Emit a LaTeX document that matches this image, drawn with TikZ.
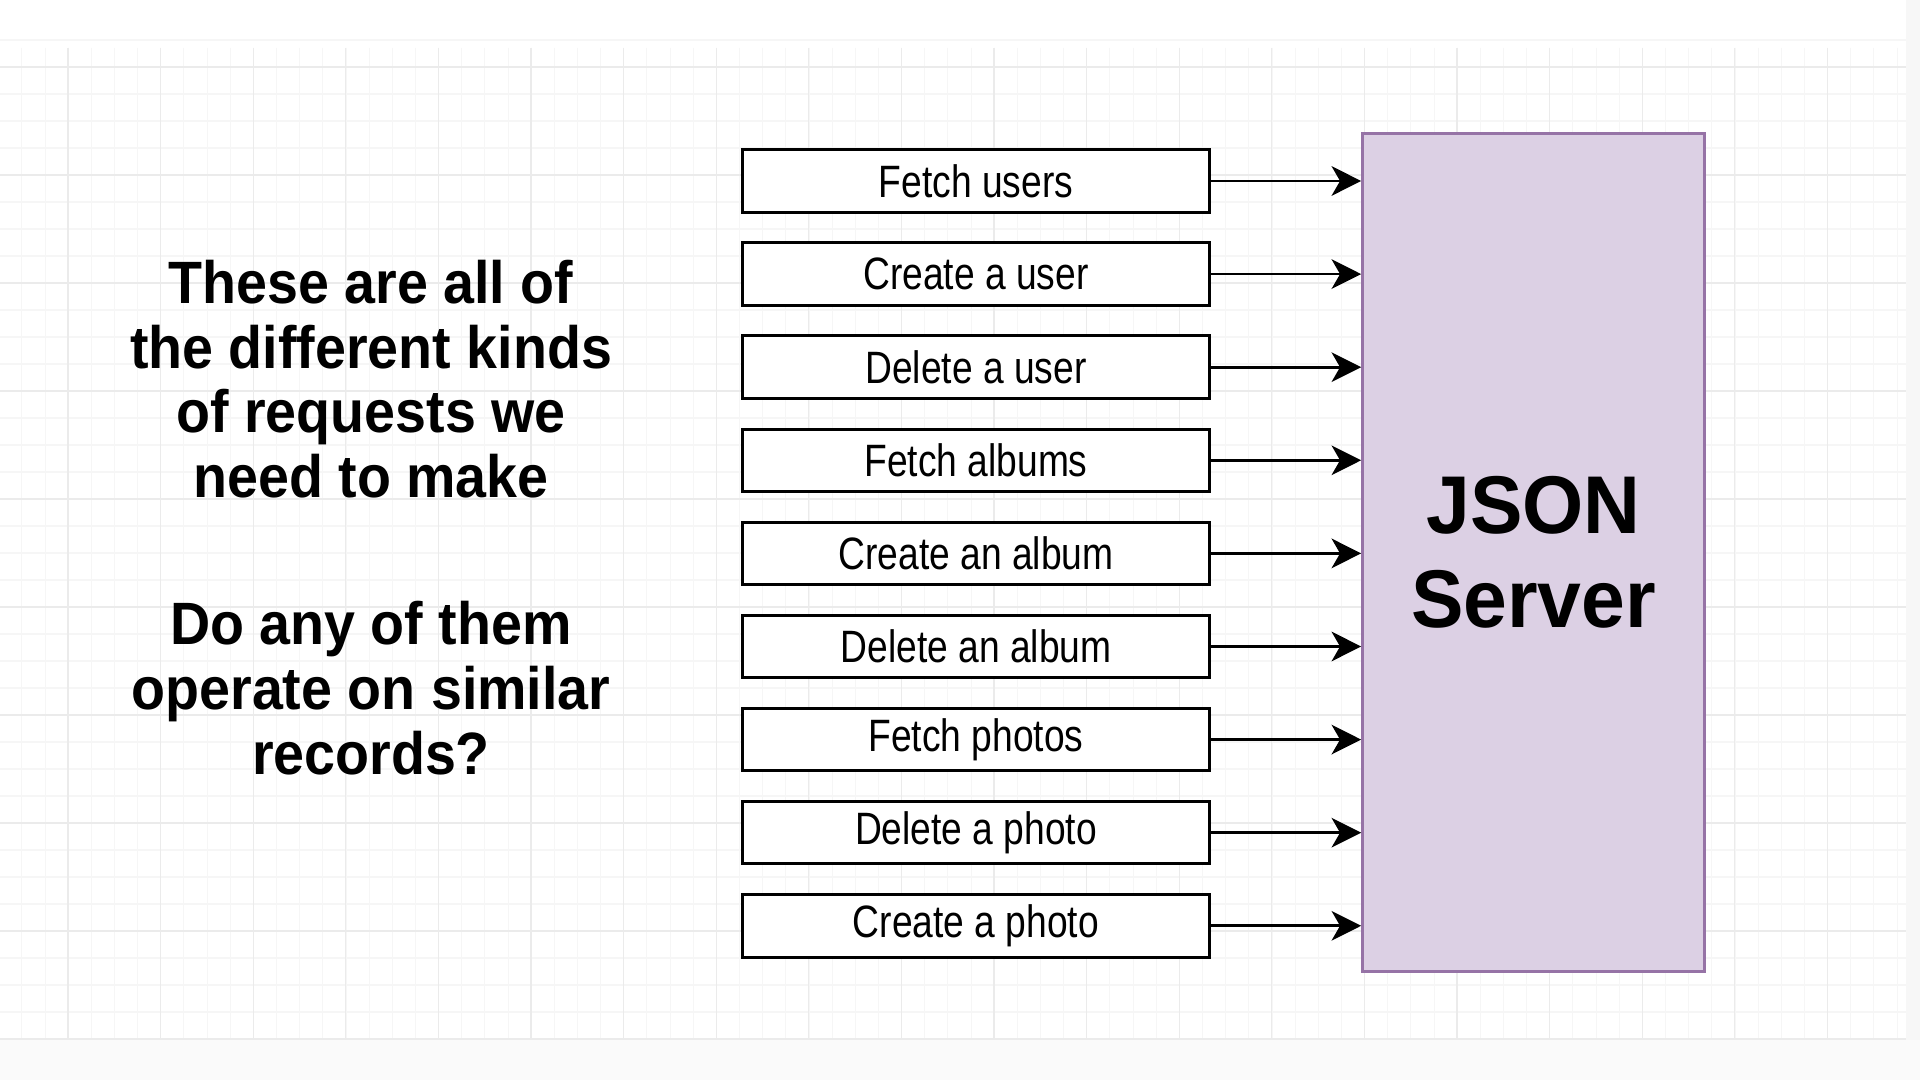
\documentclass[tikz,border=0pt]{standalone}
\usepackage{xcolor}
\usepackage{fontspec}
\setmainfont{Liberation Sans}
\newfontfamily\reqfont[FakeStretch=0.82]{Liberation Sans}
\newfontfamily\notefont[FakeStretch=0.93]{Liberation Sans}
\newfontfamily\srvfont[FakeStretch=0.96]{Liberation Sans}
\usepackage{tikz}
\usetikzlibrary{arrows.meta,positioning}

\definecolor{srvfill}{HTML}{DCD0E4}
\definecolor{srvline}{HTML}{9673A6}
\definecolor{gridmajor}{HTML}{EBEBEB}
\definecolor{gridminor}{HTML}{F6F6F6}

\tikzset{
  reqbox/.style={draw=black,line width=0.85pt,fill=white,minimum width=4.66cm,
    minimum height=0.625cm,inner sep=0pt,font=\reqfont\fontsize{12.9}{14}\selectfont},
  srvbox/.style={draw=srvline,line width=0.85pt,fill=srvfill,minimum width=3.415cm,
    minimum height=8.375cm,inner sep=0pt,align=center,
    font=\srvfont\fontsize{23.3}{26.6}\selectfont\bfseries},
  note/.style={align=center,font=\notefont\fontsize{17}{18.4}\selectfont\bfseries},
  reqarrow/.style={line width=0.8pt,-{Stealth[length=8.4pt,width=8.4pt,inset=2.4pt]}}
}

\begin{document}
\begin{tikzpicture}[x=0.01cm,y=-0.01cm]
\useasboundingbox (0,0) rectangle (1920,1080);
\fill[white] (0,0) rectangle (1920,1080);

% faint page grid
\foreach \x in {0,...,83}
  \draw[gridminor,line width=0.3pt] ({-24.4+23.15*\x},48) -- ({-24.4+23.15*\x},1040);
\foreach \y in {0,...,36}
  \draw[gridminor,line width=0.3pt] (0,{40+27*\y}) -- (1906,{40+27*\y});
\foreach \x in {0,...,20}
  \draw[gridmajor,line width=0.35pt] ({68+92.6*\x},48) -- ({68+92.6*\x},1040);
\foreach \y in {0,...,9}
  \draw[gridmajor,line width=0.35pt] (0,{67+108*\y}) -- (1906,{67+108*\y});
\fill[gray!6] (1906,0) rectangle (1920,1080);
\fill[gray!4] (0,1040) rectangle (1920,1080);

% server block
\node[srvbox] (srv) at (1533.5,552.5) {JSON\\Server};

% requests
\foreach \lbl [count=\i] in {Fetch users,Create a user,Delete a user,Fetch albums,
    Create an album,Delete an album,Fetch photos,Delete a photo,Create a photo} {
  \node[reqbox] (req\i) at (976,{181+93.1*(\i-1)}) {\lbl};
  \draw[reqarrow] (req\i.east) -- (req\i.east -| srv.west);
}

% left hand notes
\node[note] (kinds) at (371,379) {These are all of\\the different kinds\\of requests we\\need to make};
\node[note] (similar) at (371,688) {Do any of them\\operate on similar\\records?};
\end{tikzpicture}
\end{document}
